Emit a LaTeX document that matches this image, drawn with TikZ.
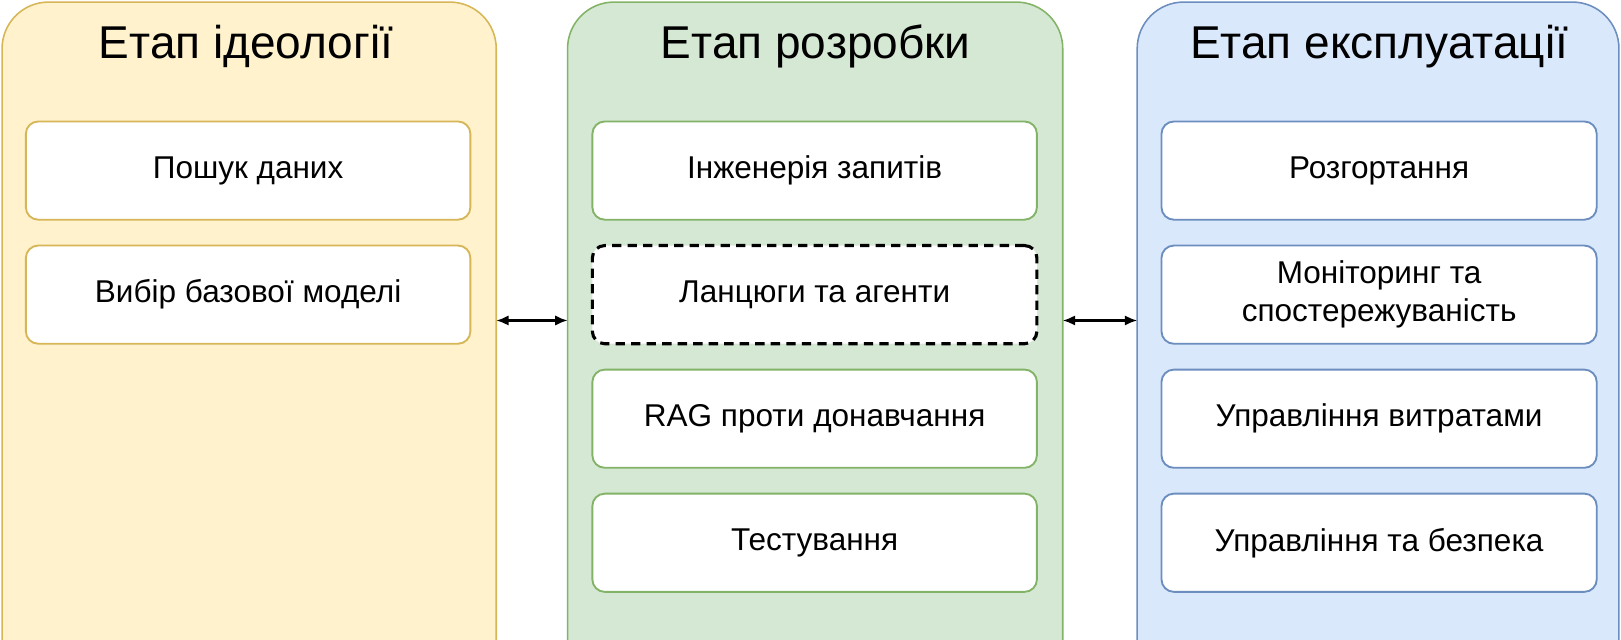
\documentclass[tikz,border=0pt]{standalone}
\usepackage{fontspec}
\setmainfont{Liberation Sans}
\usetikzlibrary{arrows.meta}
\definecolor{yf}{HTML}{FFF2CC}\definecolor{yd}{HTML}{D6B656}
\definecolor{gf}{HTML}{D5E8D4}\definecolor{gd}{HTML}{82B366}
\definecolor{bf}{HTML}{DAE8FC}\definecolor{bd}{HTML}{6C8EBF}
\begin{document}
\begin{tikzpicture}[x=1pt,y=-1pt,
 panel/.style={rounded corners=45pt,line width=1.5pt},
 box/.style={draw,fill=white,rounded corners=12pt,line width=1.8pt,minimum width=430pt,minimum height=95pt,align=center,font=\fontsize{30.5}{37}\selectfont},
 ttl/.style={font=\fontsize{44.5}{50}\selectfont},
 arr/.style={{Latex[length=12pt,width=10pt]}-{Latex[length=12pt,width=10pt]},line width=2pt}]
\useasboundingbox (0,0) rectangle (1568,619);
\begin{scope}
\clip (0,0) rectangle (1568,619);
\draw[panel,fill=yf,draw=yd] (2,2) rectangle (480,680);
\draw[panel,fill=gf,draw=gd] (549,2) rectangle (1028,680);
\draw[panel,fill=bf,draw=bd] (1100,2) rectangle (1566,680);
\end{scope}
\node[ttl] (t1) at (238,45) {Етап ідеології};
\node[ttl] (t2) at (789,45) {Етап розробки};
\node[ttl] (t3) at (1334,45) {Етап експлуатації};
\begin{scope}[every node/.style={box,draw=yd}]
\node (a1) at (240,165) {Пошук даних};
\node (a2) at (240,285) {Вибір базової моделі};
\end{scope}
\begin{scope}[every node/.style={box,draw=gd}]
\node (b1) at (788,165) {Інженерія запитів};
\node[draw=black,line width=3pt,dash pattern=on 9pt off 6pt] (b2) at (788,285) {Ланцюги та агенти};
\node (b3) at (788,405) {RAG проти донавчання};
\node (b4) at (788,525) {Тестування};
\end{scope}
\begin{scope}[every node/.style={box,draw=bd,minimum width=421pt}]
\node (c1) at (1334,165) {Розгортання};
\node (c2) at (1334,285) {Моніторинг та\\спостережуваність};
\node (c3) at (1334,405) {Управління витратами};
\node (c4) at (1334,525) {Управління та безпека};
\end{scope}
\coordinate (p1) at (480,310);
\coordinate (p2) at (549,310);
\coordinate (p3) at (1028,310);
\coordinate (p4) at (1100,310);
\draw[arr] (p1) -- (p2);
\draw[arr] (p3) -- (p4);
\end{tikzpicture}
\end{document}
